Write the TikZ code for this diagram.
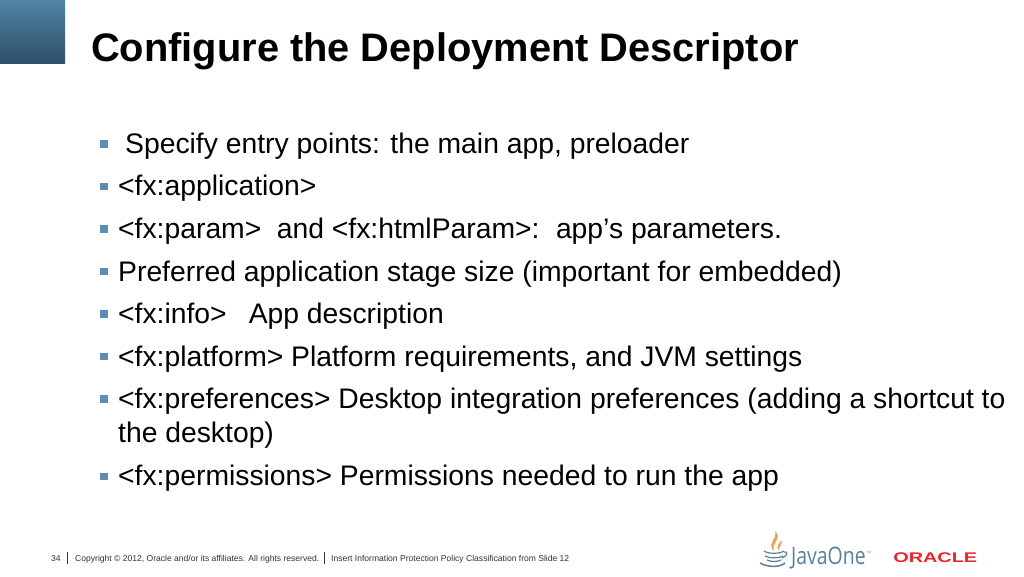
\documentclass[tikz,border=0pt]{standalone}
\usepackage{fontspec}
\setmainfont{Liberation Sans}
\newfontfamily\javafont{Open Sans}
\usetikzlibrary{calc}
\definecolor{bul}{HTML}{5B8DB5}
\definecolor{topc}{HTML}{4F84A6}
\definecolor{botc}{HTML}{2F4F68}
\definecolor{orared}{HTML}{E8262B}
\definecolor{javab}{HTML}{5A7F9C}
\definecolor{flame}{HTML}{E5A64E}
\definecolor{foot}{HTML}{333333}
\tikzset{x=1pt,y=-1pt,
 bodytxt/.style={anchor=base west,inner sep=0pt,font=\fontsize{28.3}{32}\selectfont,text=black},
 bulletbox/.style={fill=bul,draw=none,minimum size=7.5pt,inner sep=0pt},
 foottxt/.style={anchor=base west,inner sep=0pt,font=\fontsize{8.55}{10}\selectfont,text=foot}}
\begin{document}
\begin{tikzpicture}
\useasboundingbox (0,0) rectangle (1024,576);
\fill[white] (0,0) rectangle (1024,576);
\shade[top color=topc,bottom color=botc] (0,0) rectangle (65,63);
\node[anchor=base west,inner sep=0pt,font=\fontsize{39.8}{44}\selectfont\bfseries] (title) at (91,61.5) {Configure the Deployment Descriptor};
\foreach \n/\yy in {a/144,b/186.5,c/229,d/271.5,e/314,f/356.5,g/399,h/476.5}{
  \node[bulletbox] (b\n) at (104,\yy) {};
}
\node[bodytxt] (ta) at (125,153) {Specify entry points: the main app, preloader};
\node[bodytxt] (tb) at (118,195) {<fx:application>};
\node[bodytxt] (tc) at (118,238) {<fx:param>\hspace{15.5pt}and <fx:htmlParam>:\hspace{16.5pt}app’s parameters.};
\node[bodytxt] (td) at (118,281) {Preferred application stage size (important for embedded)};
\node[bodytxt] (te) at (118,323) {<fx:info>\hspace{22pt}App description};
\node[bodytxt] (tf) at (118,366) {<fx:platform> Platform requirements, and JVM settings};
\node[bodytxt] (tg) at (118,408) {<fx:preferences> Desktop integration preferences (adding a shortcut to};
\node[bodytxt] (tg2) at (118,442) {the desktop)};
\node[bodytxt] (th) at (118,485) {<fx:permissions> Permissions needed to run the app};
% footer
\node[foottxt] (f1) at (51,561) {34};
\draw[foot,line width=0.7pt] (67,552) -- (67,564);
\node[foottxt] (f2) at (75,561) {Copyright © 2012, Oracle and/or its affiliates. All rights reserved.};
\draw[foot,line width=0.7pt] (324,552) -- (324,564);
\node[foottxt] (f3) at (331,561) {Insert Information Protection Policy Classification from Slide 12};
% JavaOne logo
\fill[flame] (775,531) .. controls (783,538) and (771,543) .. (774,551) .. controls (766,544) and (778,539) .. (775,531) -- cycle;
\fill[flame] (781,540) .. controls (784,544) and (778,546) .. (779,551) .. controls (775,546) and (780,544) .. (781,540) -- cycle;
\begin{scope}[javab,line width=1.2pt]
\draw (764,551) .. controls (768,554) and (780,554) .. (784,551);
\draw (765,556) .. controls (769,558.5) and (779,558.5) .. (783,556);
\draw (767,560) .. controls (771,562) and (777,562) .. (781,560);
\draw (784,552) .. controls (788,551) and (788,556) .. (782,558);
\draw[line width=1.5pt] (760,563) .. controls (768,567.5) and (780,567.5) .. (785,563);
\end{scope}
\node[anchor=base west,inner sep=0pt,font=\javafont\fontsize{24}{26}\selectfont,text=javab,xscale=0.81] (java) at (791,564) {JavaOne};
\node[anchor=base west,inner sep=0pt,font=\fontsize{3}{4}\selectfont,text=javab] (tm) at (866.5,553) {TM};
\node[anchor=base west,inner sep=0pt,font=\fontsize{14}{16}\selectfont\bfseries,text=orared,xscale=1.42] (ora) at (893,562) {ORACLE};
\end{tikzpicture}
\end{document}
